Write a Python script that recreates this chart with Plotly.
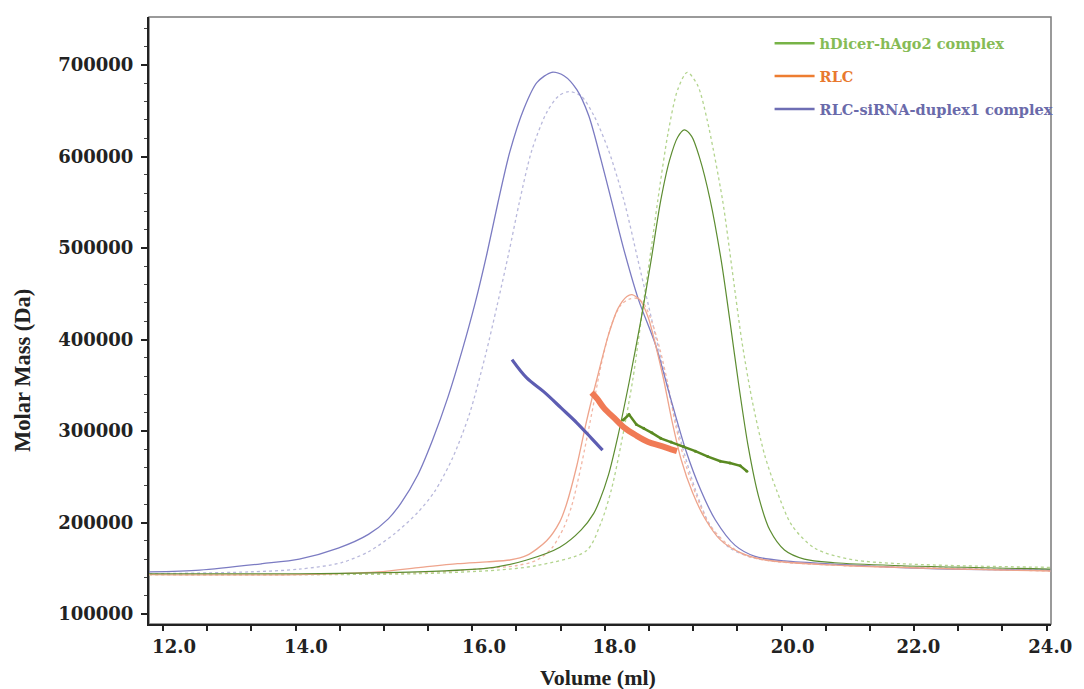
import plotly.graph_objects as go

# ---------------- data (Volume in ml, Molar Mass in Da) ----------------
# RLC-siRNA-duplex1 complex : solid trace
siRNA_x = [11.81, 12.50, 13.35, 13.85, 14.38, 14.79, 15.06, 15.23, 15.46, 15.66, 15.87, 16.07, 16.24, 16.40,
           16.55, 16.71, 16.90, 17.08, 17.28, 17.45, 17.62, 17.78, 17.95, 18.09, 18.26, 18.46, 18.69, 18.90,
           19.10, 19.30, 19.50, 19.77, 20.04, 20.44, 21.25, 21.93, 22.73, 24.05]
siRNA_y = [146000, 148000, 155000, 160000, 172000, 187000, 204000, 221000, 252000, 290000, 337000, 390000,
           440000, 494000, 550000, 605000, 652000, 681000, 692000, 688000, 673000, 645000, 596000, 552000,
           498000, 443000, 394000, 334000, 279000, 236000, 203000, 175000, 163000, 158000, 154000, 151000,
           149000, 148000]
# RLC-siRNA-duplex1 complex : dotted trace
siRNA2_x = [11.81, 13.17, 13.85, 14.42, 14.79, 15.15, 15.46, 15.69, 15.93, 16.16, 16.38, 16.54, 16.70, 16.84,
            17.01, 17.21, 17.37, 17.51, 17.68, 17.85, 18.05, 18.26, 18.45, 18.64, 18.83, 19.03, 19.23, 19.43,
            19.70, 20.04, 20.58, 21.25, 24.05]
siRNA2_y = [144000, 146000, 149000, 156000, 168000, 188000, 211000, 234000, 270000, 318000, 383000, 438000,
            496000, 550000, 607000, 648000, 666000, 671000, 666000, 645000, 607000, 552000, 487000, 421000,
            356000, 290000, 236000, 197000, 172000, 161000, 156000, 153000, 148000]
# RLC : solid trace
rlc_x = [11.81, 13.85, 14.92, 15.50, 16.00, 16.40, 16.71, 16.94, 17.21, 17.39, 17.48, 17.62, 17.75, 17.89,
         18.05, 18.18, 18.30, 18.37, 18.48, 18.59, 18.69, 18.80, 18.91, 19.04, 19.19, 19.37, 19.57, 19.84,
         20.18, 21.25, 24.05]
rlc_y = [143000, 143000, 146000, 151000, 155000, 157000, 159000, 164000, 180000, 201000, 220000, 262000,
         310000, 356000, 405000, 434000, 447000, 449000, 443000, 424000, 394000, 356000, 312000, 268000,
         233000, 203000, 181000, 167000, 159000, 153000, 147000]
# RLC : dotted trace
rlc2_x = [11.81, 13.85, 15.46, 16.27, 16.81, 17.08, 17.28, 17.44, 17.55, 17.68, 17.82, 17.95, 18.09, 18.22,
          18.33, 18.43, 18.53, 18.64, 18.75, 18.86, 18.96, 19.10, 19.25, 19.42, 19.64, 19.91, 20.24, 21.25,
          24.05]
rlc2_y = [143000, 143000, 145000, 149000, 153000, 159000, 172000, 194000, 218000, 262000, 318000, 372000,
          416000, 438000, 444000, 445000, 439000, 419000, 389000, 350000, 307000, 263000, 228000, 198000,
          178000, 164000, 158000, 153000, 147000]
# hDicer-hAgo2 complex : solid trace
dicer_x = [11.81, 13.85, 15.46, 16.50, 16.94, 17.39, 17.68, 17.85, 17.93, 18.05, 18.18, 18.33, 18.49, 18.63,
           18.76, 18.88, 18.99, 19.08, 19.18, 19.29, 19.43, 19.58, 19.70, 19.82, 19.95, 20.09, 20.24, 20.44,
           20.71, 21.12, 21.93, 24.05]
dicer_y = [144000, 144000, 146000, 151000, 159000, 173000, 192000, 210000, 224000, 252000, 295000, 353000,
           421000, 487000, 552000, 596000, 621000, 629000, 622000, 598000, 553000, 487000, 420000, 350000,
           282000, 228000, 192000, 170000, 160000, 156000, 153000, 149000]
# hDicer-hAgo2 complex : dotted trace
dicer2_x = [11.81, 13.85, 15.46, 16.54, 17.08, 17.75, 17.95, 18.09, 18.22, 18.38, 18.53, 18.64, 18.72, 18.86,
            18.99, 19.12, 19.26, 19.39, 19.60, 19.73, 19.86, 20.00, 20.17, 20.33, 20.54, 20.85, 21.39, 24.05]
dicer2_y = [143000, 143000, 144000, 148000, 153000, 169000, 200000, 236000, 285000, 356000, 443000, 505000,
           552000, 626000, 673000, 692000, 678000, 640000, 552000, 476000, 399000, 334000, 274000, 236000,
           197000, 172000, 159000, 151000]

# Molar mass segments
mm_siRNA_x = [16.74, 16.94, 17.17, 17.41, 17.62, 17.82, 17.97]
mm_siRNA_y = [378000, 358000, 343000, 325000, 309000, 292000, 279000]
mm_rlc_x = [17.82, 17.89, 17.99, 18.13, 18.26, 18.43, 18.59, 18.75, 18.90, 18.98]
mm_rlc_y = [342000, 336000, 325000, 314000, 304000, 295000, 288000, 284000, 280000, 278000]
mm_dicer_x = [18.25, 18.33, 18.43, 18.53, 18.64, 18.76, 18.90, 19.07, 19.23, 19.40, 19.57, 19.70, 19.84, 19.93]
mm_dicer_y = [312000, 318000, 307000, 303000, 298000, 292000, 288000, 283000, 278000, 272000, 267000, 265000,
              262000, 256000]

legend_names = ["hDicer-hAgo2 complex", "RLC", "RLC-siRNA-duplex1 complex"]
legend_line_colors = ["#77b347", "#ed7d31", "#6e6eb4"]
legend_text_colors = ["#86bb55", "#e8792f", "#6a6aaa"]

x_tick_marks = [12.0 + 0.6 * i for i in range(21)]
x_tick_text = ["12.0", "14.0", "16.0", "18.0", "20.0", "22.0", "24.0"]
x_tick_label_pos = [12.15, 13.94, 16.36, 18.13, 20.55, 22.26, 24.05]
y_ticks = [100000, 200000, 300000, 400000, 500000, 600000, 700000]
y_tick_text = [str(v) for v in y_ticks]

# ---------------- figure ----------------
fig = go.Figure()

def chrom(x, y, color, dash, width):
    fig.add_trace(go.Scatter(x=x, y=y, mode="lines", showlegend=False, hoverinfo="skip",
                             line=dict(color=color, width=width, dash=dash, shape="spline", smoothing=0.8)))

chrom(siRNA2_x, siRNA2_y, "#b9b9dc", "dot", 1.3)
chrom(rlc2_x, rlc2_y, "#f2b7a6", "dot", 1.3)
chrom(dicer2_x, dicer2_y, "#b3d48e", "dot", 1.3)
chrom(siRNA_x, siRNA_y, "#7b7bc2", "solid", 1.3)
chrom(rlc_x, rlc_y, "#eea48c", "solid", 1.3)
chrom(dicer_x, dicer_y, "#5c8c30", "solid", 1.2)

fig.add_trace(go.Scatter(x=mm_siRNA_x, y=mm_siRNA_y, mode="lines", showlegend=False,
                         line=dict(color="#5d5db2", width=3.2, shape="spline")))
fig.add_trace(go.Scatter(x=mm_rlc_x, y=mm_rlc_y, mode="lines", showlegend=False,
                         line=dict(color="#f07a55", width=6, shape="spline")))
fig.add_trace(go.Scatter(x=mm_dicer_x, y=mm_dicer_y, mode="lines+markers", showlegend=False,
                         line=dict(color="#5a8a22", width=2.5), marker=dict(size=3, color="#5a8a22")))

for i, (nm, lc, tc) in enumerate(zip(legend_names, legend_line_colors, legend_text_colors)):
    fig.add_trace(go.Scatter(x=[None], y=[None], mode="lines", legendgroup=f"g{i}",
                             name=f"<span style='color:{tc}'>{nm}</span>",
                             line=dict(color=lc, width=2.5)))

fig.update_layout(
    width=1084, height=689,
    margin=dict(l=149, r=26, t=17, b=65),
    paper_bgcolor="white", plot_bgcolor="white",
    font=dict(family="DejaVu Serif", color="#222222"),
    showlegend=True,
    legend=dict(x=0.688, y=0.983, xanchor="left", yanchor="top", bgcolor="rgba(0,0,0,0)",
                font=dict(family="DejaVu Serif", size=14.5, weight="bold"),
                tracegroupgap=11, itemwidth=40),
    xaxis=dict(range=[11.81, 24.06], showgrid=False, zeroline=False,
               showline=True, linecolor="#222222", linewidth=2,
               tickmode="array", tickvals=x_tick_label_pos, ticktext=x_tick_text,
               ticks="outside", ticklen=5, tickcolor="rgba(0,0,0,0)",
               tickfont=dict(family="DejaVu Serif", size=18, weight="bold", color="#222222"),
               minor=dict(tickmode="array", tickvals=x_tick_marks, ticks="outside",
                          ticklen=5, tickwidth=1.5, tickcolor="#222222")),
    yaxis=dict(range=[89070, 752460], showgrid=False, zeroline=False,
               showline=True, linecolor="#222222", linewidth=2,
               tickmode="array", tickvals=y_ticks, ticktext=y_tick_text,
               ticks="outside", ticklen=6, tickwidth=1.5,
               tickcolor="#222222", ticklabelstandoff=4,
               tickfont=dict(family="DejaVu Serif", size=18, weight="bold", color="#222222"),
               minor=dict(dtick=20000, ticks="outside", ticklen=3, tickwidth=1, tickcolor="#444444")),
    shapes=[dict(type="rect", xref="paper", yref="paper", x0=0, y0=0, x1=1, y1=1,
                 line=dict(color="#7a7a7a", width=1.5), layer="below")],
    annotations=[
        dict(text="Molar Mass (Da)", xref="paper", yref="paper", x=-0.1397, y=0.4185,
             textangle=-90, showarrow=False, xanchor="center", yanchor="middle",
             font=dict(family="Liberation Serif", size=22.5, weight="bold", color="#222222")),
        dict(text="Volume (ml)", xref="paper", yref="paper", x=0.498, y=-0.088,
             showarrow=False, xanchor="center", yanchor="middle",
             font=dict(family="Liberation Serif", size=22, weight="bold", color="#222222")),
    ],
)

fig.write_html("out.html")
